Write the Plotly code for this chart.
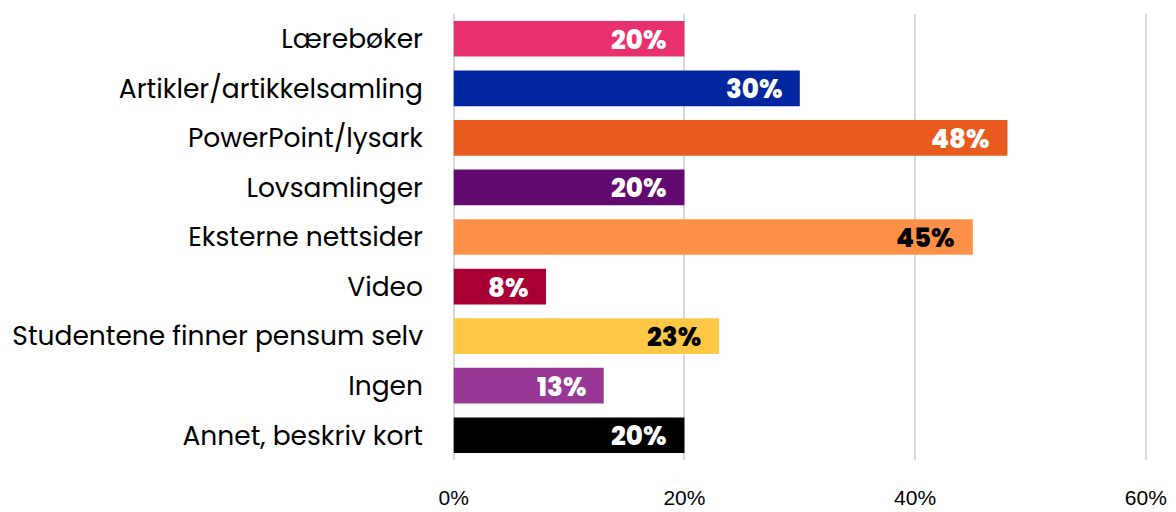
import plotly.graph_objects as go

categories = ["Lærebøker", "Artikler/artikkelsamling", "PowerPoint/lysark", "Lovsamlinger",
              "Eksterne nettsider", "Video", "Studentene finner pensum selv", "Ingen",
              "Annet, beskriv kort"]
values = [20, 30, 48, 20, 45, 8, 23, 13, 20]
colors = ["#E8306F", "#0026A0", "#E85A1E", "#620A70", "#FF9048", "#A80035",
          "#FDC846", "#983794", "#000000"]
label_colors = ["white", "white", "white", "white", "black", "white", "black", "white", "white"]
tick_vals = [0, 20, 40, 60]
tick_text = ["0%", "20%", "40%", "60%"]

fig = go.Figure(go.Bar(
    x=values, y=categories, orientation="h",
    marker=dict(color=colors, line=dict(width=0)),
    width=0.72, hoverinfo="skip",
))

for c, v, lc in zip(categories, values, label_colors):
    fig.add_annotation(x=v, y=c, text=f"{v}%", showarrow=False, xanchor="right",
                       xshift=-16, yshift=-1,
                       font=dict(family="Poppins, Inter, sans-serif", size=26, color=lc, weight=800))

# page body adds an 8px offset; the figure is sized to the visible area
fig.update_layout(
    width=1168, height=504,
    margin=dict(l=444, r=29, t=6, b=52, autoexpand=False),
    plot_bgcolor="white", paper_bgcolor="white",
    showlegend=False,
    bargap=0.28,
    xaxis=dict(range=[-0.15, 60.1], tickvals=tick_vals, ticktext=tick_text, automargin=False,
               showgrid=True, gridcolor="#d9d9d9", gridwidth=2, zeroline=False,
               showline=False, ticks="", ticklabelstandoff=23,
               tickfont=dict(family="Liberation Sans Narrow, Arial Narrow, Liberation Sans", size=21, color="black")),
    yaxis=dict(autorange="reversed", showgrid=False, zeroline=False, showline=False, ticks="",
               ticklabelstandoff=28, automargin=False,
               tickfont=dict(family="Poppins, Open Sans, sans-serif", size=26.5, color="black")),
)

fig.write_html("out.html")
